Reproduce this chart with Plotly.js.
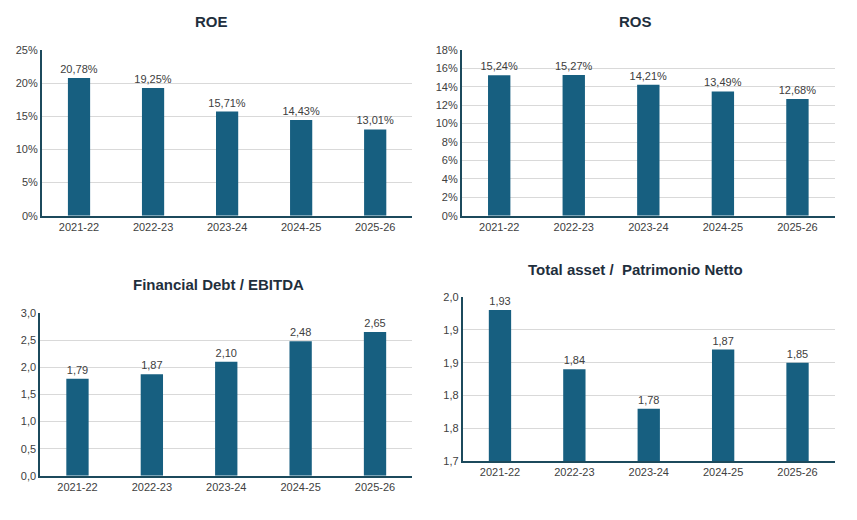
<!DOCTYPE html>
<html>
<head>
<meta charset="utf-8">
<script src="https://cdn.plot.ly/plotly-3.0.1.min.js"></script>
<style>body{margin:0;background:#fff}</style>
</head>
<body>
<div id="chart" style="width:857px;height:520px"></div>
<script>
var years = ['2021-22', '2022-23', '2023-24', '2024-25', '2025-26'];
var roe = [20.78, 19.25, 15.71, 14.43, 13.01];
var ros = [15.24, 15.27, 14.21, 13.49, 12.68];
var debtEbitda = [1.79, 1.87, 2.10, 2.48, 2.65];
var assetPn = [1.93, 1.84, 1.78, 1.87, 1.85];
var tav = [1.70, 1.75, 1.80, 1.85, 1.90, 1.95];
var tat = ['1,7', '1,8', '1,8', '1,9', '1,9', '2,0'];

var barColor = '#175f80';
var lineColor = '#1c4a5c';
var textColor = '#404040';

function fmt(v, d, suf) {
    return v.toFixed(d).replace('.', ',') + suf;
}

function bar(vals, d, suf, n) {
    return {
        x: years, y: vals, type: 'bar',
        xaxis: 'x' + n, yaxis: 'y' + n,
        marker: {color: barColor},
        text: vals.map(function(v){ return fmt(v, d, suf); }),
        textposition: 'outside',
        constraintext: 'none',
        textfont: {size: 11, color: textColor},
        cliponaxis: false,
        hoverinfo: 'none',
        width: 0.3,
    };
}

var data = [
    bar(roe, 2, '%', ''),
    bar(ros, 2, '%', '2'),
    bar(debtEbitda, 2, '', '3'),
    bar(assetPn, 2, '', '4'),
];

function xa(dom, anchor) {
    return {domain: dom, anchor: anchor, showline: true, linecolor: lineColor, linewidth: 2,
        tickfont: {size: 11, color: textColor}, ticks: '', fixedrange: true};
}
function ya(dom, anchor, extra) {
    var o = {domain: dom, anchor: anchor, showline: true, linecolor: lineColor, linewidth: 2,
        gridcolor: '#d9d9d9', tickfont: {size: 11, color: textColor}, ticks: '',
        zeroline: false, fixedrange: true};
    for (var k in extra) o[k] = extra[k];
    return o;
}

var ann = [
    ['ROE', 0.247, 0.958],
    ['ROS', 0.742, 0.958],
    ['Financial Debt / EBITDA', 0.255, 0.452],
    ['Total asset /  Patrimonio Netto', 0.742, 0.481],
].map(function(a){
    return {text: '<b>' + a[0] + '</b>', x: a[1], y: a[2], xref: 'paper', yref: 'paper',
        xanchor: 'center', yanchor: 'middle',
        showarrow: false, font: {size: 15, color: '#1f2f3d'}};
});

var layout = {
    width: 857, height: 520,
    margin: {t: 0, b: 0, l: 0, r: 0},
    showlegend: false,
    separators: ',.',
    font: {family: 'Liberation Sans, Arial, sans-serif'},
    plot_bgcolor: '#fff', paper_bgcolor: '#fff',
    xaxis: xa([0.049, 0.481], 'y'),
    yaxis: ya([0.585, 0.904], 'x', {range: [0, 25], dtick: 5, ticksuffix: '%'}),
    xaxis2: xa([0.539, 0.974], 'y2'),
    yaxis2: ya([0.585, 0.904], 'x2', {range: [0, 18], dtick: 2, ticksuffix: '%'}),
    xaxis3: xa([0.047, 0.481], 'y3'),
    yaxis3: ya([0.085, 0.398], 'x3', {range: [0, 3], dtick: 0.5, tickformat: '.1f'}),
    xaxis4: xa([0.54, 0.974], 'y4'),
    yaxis4: ya([0.113, 0.429], 'x4', {range: [1.7, 1.95], tickvals: tav, ticktext: tat}),
    annotations: ann,
};

Plotly.newPlot('chart', data, layout, {displayModeBar: false, staticPlot: true});
</script>
</body>
</html>
